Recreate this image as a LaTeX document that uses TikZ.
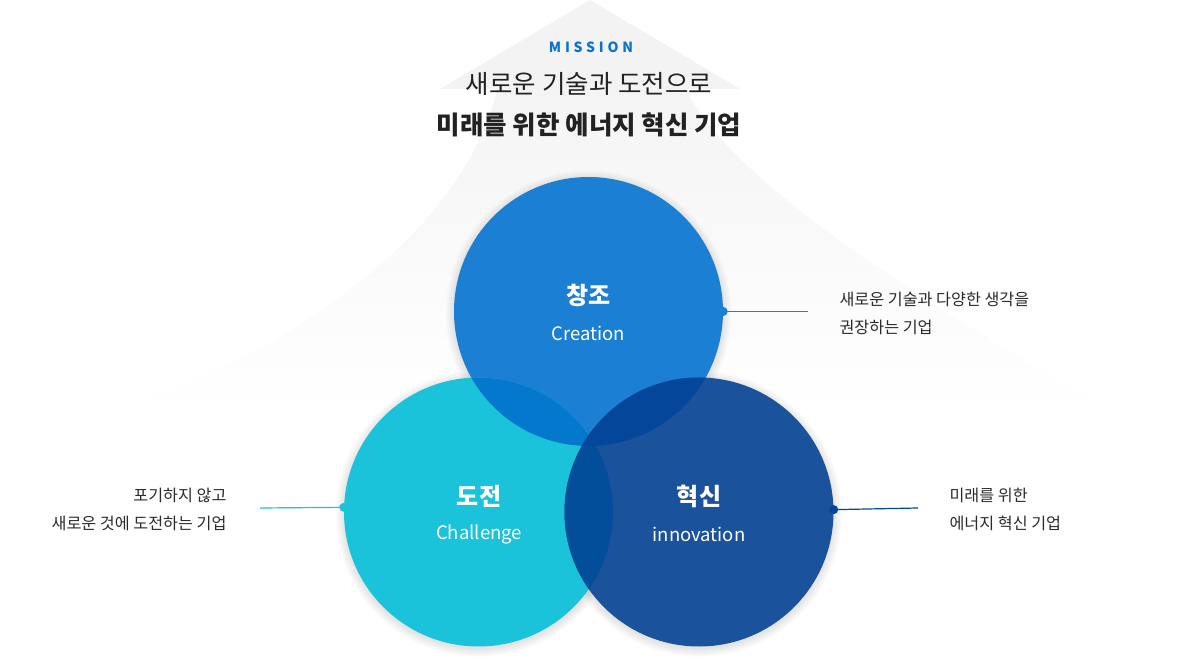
\documentclass[tikz,border=0pt]{standalone}
\usepackage{fontspec}
\setmainfont{Noto Sans CJK KR}
\newfontfamily\missionfont[LetterSpace=27]{Noto Sans CJK KR}
\definecolor{ctop}{HTML}{1B7FD3}
\definecolor{cleft}{HTML}{1AC3DA}
\definecolor{cright}{HTML}{1A529C}
\definecolor{otl}{HTML}{0378CC}
\definecolor{otr}{HTML}{04479A}
\definecolor{olr}{HTML}{034E9A}
\definecolor{otri}{HTML}{06479B}
\definecolor{mtn}{HTML}{F3F3F3}
\definecolor{titlec}{HTML}{222222}
\definecolor{sidec}{HTML}{2A2A2A}
\definecolor{missionc}{HTML}{0A73D0}
\tikzset{
  venn/.style={circle, minimum size=269pt, inner sep=0pt, draw=none},
  shadring/.style={fill=black, fill opacity=0.011},
  kor/.style={text=white, font=\bfseries\fontsize{24}{28}\selectfont},
  eng/.style={text=white, font=\fontsize{18.5}{22}\selectfont, anchor=base},
  side/.style={text=sidec, font=\fontsize{16.2}{28}\selectfont},
  dotc/.style={circle, inner sep=0pt, minimum size=9pt},
  conn/.style={line width=1.2pt},
}
\begin{document}
\begin{tikzpicture}[x=1pt,y=-1pt]
\useasboundingbox (0,0) rectangle (1189,660);
% background mountain
\fill[mtn] (590,0) -- (740,89) -- (440,89) -- cycle;
\shade[top color=mtn!90!white, bottom color=white, shading angle=0]
  (497,89) .. controls (470,210) and (330,340) .. (105,414) -- (1115,414)
  .. controls (920,300) and (735,185) .. (685,89) -- cycle;
% titles
\node[text=missionc, font=\missionfont\bfseries\fontsize{14}{16}\selectfont] (mission) at (591,47) {MISSION};
\node[text=titlec, font=\fontsize{25.5}{30}\selectfont] (t1) at (589,84) {새로운 기술과 도전으로};
\node[text=titlec, font=\bfseries\fontsize{25.5}{30}\selectfont] (t2) at (589,125) {미래를 위한 에너지 혁신 기업};
% soft shadows
\foreach \r in {143,142,...,135}{
  \fill[shadring] (588.5,313.5) circle[radius=\r pt];
  \fill[shadring] (478.5,514) circle[radius=\r pt];
  \fill[shadring] (699,514) circle[radius=\r pt];
}
% circles
\node[venn, fill=ctop] (top) at (588.5,311.5) {};
\node[venn, fill=cleft] (left) at (478.5,512) {};
\node[venn, fill=cright] (right) at (699,512) {};
% overlaps
\begin{scope}
  \clip (588.5,311.5) circle[radius=134.5pt];
  \fill[otl] (478.5,512) circle[radius=134.5pt];
  \fill[otr] (699,512) circle[radius=134.5pt];
\end{scope}
\begin{scope}
  \clip (478.5,512) circle[radius=134.5pt];
  \fill[olr] (699,512) circle[radius=134.5pt];
  \clip (588.5,311.5) circle[radius=134.5pt];
  \fill[otri] (699,512) circle[radius=134.5pt];
\end{scope}
% labels
\node[kor] (topk) at (588.5,296) {창조};
\node[eng] (tope) at (588.5,341) {Creation};
\node[kor] (leftk) at (479,496) {도전};
\node[eng] (lefte) at (479,539) {Challenge};
\node[kor] (rightk) at (699,496) {혁신};
\node[eng] (righte) at (699,541) {innovation};
% connectors
\node[dotc, fill=ctop] (tdot) at (top.east) {};
\coordinate (tend) at (808,311.5);
\draw[ctop, conn] (tdot.center) -- (tend);
\node[dotc, fill=cleft] (ldot) at (left.178.3) {};
\coordinate (lend) at (260,508);
\draw[cleft, conn] (ldot.center) -- (lend);
\node[dotc, fill=otr] (rdot) at (right.1.7) {};
\coordinate (rend) at (918,508);
\draw[otr, conn] (rdot.center) -- (rend);
% side texts
\node[side, anchor=west, align=left] (ttext) at (836,313) {새로운 기술과 다양한 생각을\\권장하는 기업};
\node[side, anchor=east, align=right] (ltext) at (230,509) {포기하지 않고\\새로운 것에 도전하는 기업};
\node[side, anchor=west, align=left] (rtext) at (946,509) {미래를 위한\\에너지 혁신 기업};
\end{tikzpicture}
\end{document}
